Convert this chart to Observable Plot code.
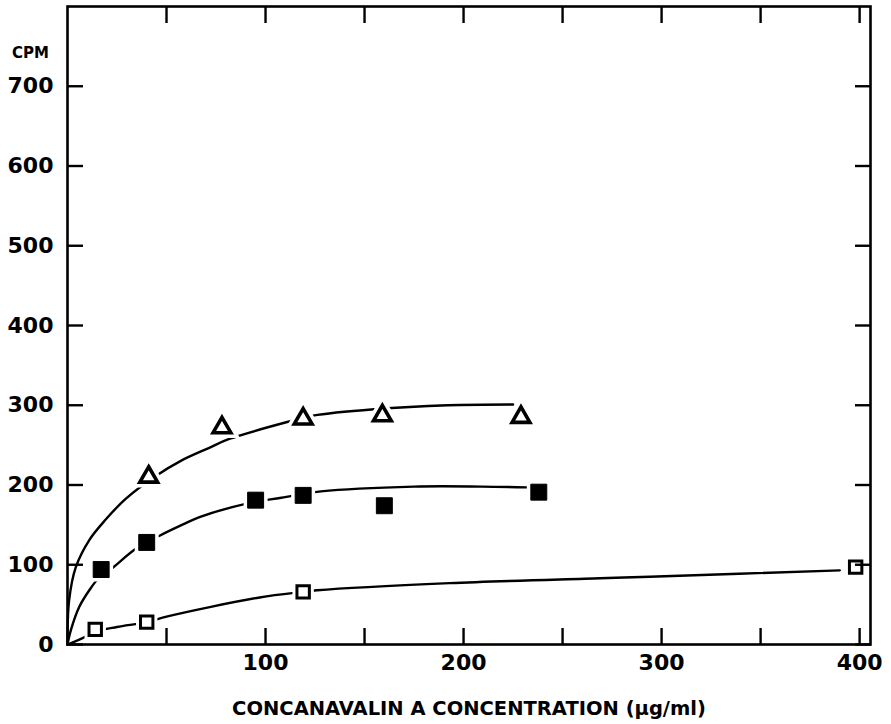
<!DOCTYPE html>
<html>
<head>
<meta charset="utf-8">
<script src="https://cdn.jsdelivr.net/npm/d3@7"></script>
<script src="https://cdn.jsdelivr.net/npm/@observablehq/plot@0.6"></script>
<style>
  html, body { margin: 0; padding: 0; background: #fff; }
  svg { display: block; }
</style>
</head>
<body>
<div id="chart"></div>
<script>
// Measured points (Con A µg/ml, CPM)
const triX = [41, 78, 119, 159, 229];
const triY = [210, 272, 283, 287, 285];
const fillX = [17, 40, 95, 119, 160, 238];
const fillY = [94, 128, 181, 187, 174, 191];
const openX = [14, 40, 119, 398];
const openY = [19, 28, 66, 97];

// Fitted curves
const curveTopX = [0, 0.8, 4.2, 11, 19.4, 29.5, 45, 57, 71, 82, 111, 124, 155, 192, 225];
const curveTopY = [0, 55, 97, 131, 157, 183, 212, 230, 246, 258, 279, 287, 295, 300, 301];
const curveMidX = [0, 1.7, 5.9, 11, 16, 22.7, 34.5, 47, 57, 67, 91, 108, 128, 175, 209, 232];
const curveMidY = [0, 18, 47, 68, 84, 96, 120, 137, 149, 160, 177, 184, 192, 198, 198, 197];
const curveLowX = [0, 7.6, 14, 25, 40, 50, 97, 119, 126, 193, 269, 294, 390];
const curveLowY = [0, 8, 16, 22, 28, 35, 59, 66, 68, 77, 83, 85, 93];

const xTicksMinor = [50, 100, 150, 200, 250, 300, 350, 400];
const xTickLabels = [100, 200, 300, 400];
const yTicks = [0, 100, 200, 300, 400, 500, 600, 700];

const zip = (xs, ys) => xs.map((x, i) => ({x, y: ys[i]}));
const tri = zip(triX, triY);
const fil = zip(fillX, fillY);
const opn = zip(openX, openY);
const cTop = zip(curveTopX, curveTopY);
const cMid = zip(curveMidX, curveMidY);
const cLow = zip(curveLowX, curveLowY);

const font = "DejaVu Sans, sans-serif";

const chart = Plot.plot({
  width: 891,
  height: 724,
  marginLeft: 67,
  marginRight: 21,
  marginTop: 6,
  marginBottom: 80,
  style: {fontFamily: font, fontWeight: "bold", background: "#fff", color: "#000"},
  x: {domain: [0, 405.5], axis: null},
  y: {domain: [0, 800], axis: null},
  marks: [
    // curves
    Plot.line(cTop, {x: "x", y: "y", curve: "catmull-rom", stroke: "black", strokeWidth: 2.4}),
    Plot.line(cMid, {x: "x", y: "y", curve: "catmull-rom", stroke: "black", strokeWidth: 2.4}),
    Plot.line(cLow, {x: "x", y: "y", curve: "catmull-rom", stroke: "black", strokeWidth: 2.4}),
    // white halos creating the gaps around markers
    Plot.dot(tri, {x: "x", y: "y", symbol: "triangle", r: 7, fill: "white", stroke: "white", strokeWidth: 10}),
    Plot.dot(fil, {x: "x", y: "y", symbol: "square", r: 9, fill: "white", stroke: "white", strokeWidth: 8}),
    Plot.dot(opn, {x: "x", y: "y", symbol: "square", r: 7, fill: "white", stroke: "white", strokeWidth: 9}),
    // markers
    Plot.dot(tri, {x: "x", y: "y", symbol: "triangle", r: 6.6, fill: "white", stroke: "black", strokeWidth: 3.6}),
    Plot.dot(fil, {x: "x", y: "y", symbol: "square", r: 9, fill: "black", stroke: "black", strokeWidth: 1}),
    Plot.dot(opn, {x: "x", y: "y", symbol: "square", r: 7, fill: "white", stroke: "black", strokeWidth: 3}),
    // frame
    Plot.frame({stroke: "black", strokeWidth: 2.6}),
    // inward ticks
    Plot.axisY({anchor: "left", ticks: yTicks, tickSize: -16, text: null, label: null, strokeWidth: 2.4}),
    Plot.axisY({anchor: "right", ticks: yTicks, tickSize: -16, text: null, label: null, strokeWidth: 2.4}),
    Plot.axisX({anchor: "bottom", ticks: xTicksMinor, tickSize: -16, text: null, label: null, strokeWidth: 2.4}),
    Plot.axisX({anchor: "top", ticks: xTicksMinor, tickSize: -16, text: null, label: null, strokeWidth: 2.4}),
    // tick labels
    Plot.axisY({anchor: "left", ticks: yTicks, tickSize: 0, tickPadding: 14, fontSize: 22, fontWeight: "bold", label: null}),
    Plot.axisX({anchor: "bottom", ticks: xTickLabels, tickSize: 0, tickPadding: 10, fontSize: 22, fontWeight: "bold",
      label: "CONCANAVALIN A CONCENTRATION (μg/ml)", labelAnchor: "center", labelArrow: "none", labelOffset: 70}),
    Plot.text(["CPM"], {frameAnchor: "top-left", dx: -37, dy: 41, fontSize: 15, fontWeight: "bold", textAnchor: "middle"})
  ]
});

// enlarge the x-axis title font
chart.querySelectorAll("[aria-label='x-axis label'] text").forEach(t => { t.setAttribute("font-size", 19.5); });
document.getElementById("chart").appendChild(chart);
</script>
</body>
</html>
